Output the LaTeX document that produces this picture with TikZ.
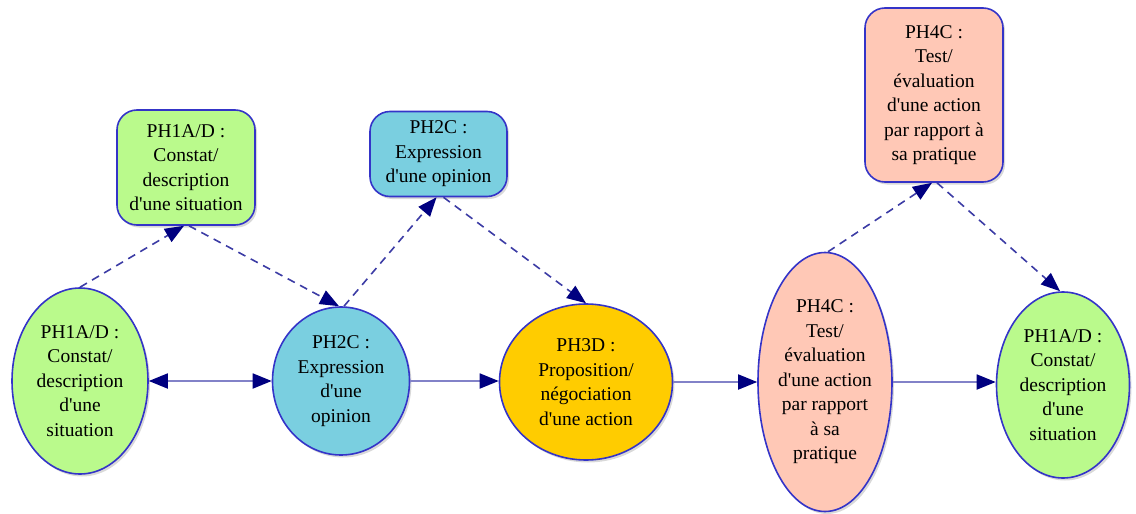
\documentclass[tikz,border=0pt]{standalone}
\usepackage{fontspec}
\newfontfamily\diagfont{Liberation Serif}
\usetikzlibrary{shapes.geometric,arrows.meta,shadows}

\definecolor{phgreen}{RGB}{186,250,140}
\definecolor{phblue}{RGB}{122,207,224}
\definecolor{phyellow}{RGB}{255,204,0}
\definecolor{phsalmon}{RGB}{255,200,182}
\definecolor{rim}{RGB}{52,52,200}
\definecolor{tipnavy}{RGB}{0,0,128}
\definecolor{flowline}{RGB}{130,130,200}
\definecolor{dashline}{RGB}{60,60,165}

\tikzset{
  phase/.style={draw=rim, line width=1.6pt,
    drop shadow={shadow xshift=2pt, shadow yshift=-2.5pt, opacity=0.3}},
  oval/.style={phase, ellipse, inner sep=0pt},
  card/.style={phase, rectangle, rounded corners=20pt, inner sep=0pt},
  txt/.style={align=center, font=\diagfont\fontsize{19.5}{24.5}\selectfont, inner sep=0pt},
  flow/.style={draw=flowline, line width=1.8pt, -{Triangle[length=19pt,width=15pt,color=tipnavy]}},
  aside/.style={draw=dashline, line width=1.6pt, dash pattern=on 8pt off 6pt,
    -{Triangle[length=19pt,width=15pt,color=tipnavy]}},
}

\begin{document}
\begin{tikzpicture}[x=1pt, y=-1pt]
\useasboundingbox (0,0) rectangle (1136,514);

% main sequence of phases
\node[oval, fill=phgreen,  minimum width=136pt, minimum height=186pt] (e1) at (80,381) {};
\node[oval, fill=phblue,   minimum width=137pt, minimum height=148pt] (e2) at (341,381) {};
\node[oval, fill=phyellow, minimum width=173pt, minimum height=156pt] (e3) at (586,382) {};
\node[oval, fill=phsalmon, minimum width=134pt, minimum height=259pt] (e4) at (825,382) {};
\node[oval, fill=phgreen,  minimum width=133pt, minimum height=186pt] (e5) at (1063,385) {};

\node[txt] at (e1) {PH1A/D :\\Constat/\\description\\d'une\\situation};
\node[txt] at (e2) {PH2C :\\Expression\\d'une\\opinion};
\node[txt] at (e3) {PH3D :\\Proposition/\\négociation\\d'une action};
\node[txt] at (e4) {PH4C :\\Test/\\évaluation\\d'une action\\par rapport\\à sa\\pratique};
\node[txt] at (e5) {PH1A/D :\\Constat/\\description\\d'une\\situation};

% side phases
\node[card, fill=phgreen,  minimum width=138pt, minimum height=115pt] (a) at (186,167.5) {};
\node[card, fill=phblue,   minimum width=137pt, minimum height=85pt]  (b) at (438.5,154) {};
\node[card, fill=phsalmon, minimum width=138pt, minimum height=174pt] (c) at (934,95) {};

\node[txt] at (a) {PH1A/D :\\Constat/\\description\\d'une situation};
\node[txt] at (b) {PH2C :\\Expression\\d'une opinion};
\node[txt] at (c) {PH4C :\\Test/\\évaluation\\d'une action\\par rapport à\\sa pratique};

% horizontal flow
\draw[flow, {Triangle[length=19pt,width=15pt,color=tipnavy]}-{Triangle[length=19pt,width=15pt,color=tipnavy]}] (e1.east) -- (e2.west |- e1.east);
\draw[flow] (e2.east) -- (e3.west |- e2.east);
\draw[flow] (e3.east) -- (e4.west |- e3.east);
\draw[flow] (e4.east) -- (e5.west |- e4.east);

% detours through the side phases
\draw[aside] (e1.north) -- ([xshift=-2pt]a.south);
\draw[aside] ([xshift=3pt]a.south) -- ([xshift=-2pt]e2.north);
\draw[aside] ([xshift=3pt]e2.north) -- ([xshift=-2pt]b.south);
\draw[aside] ([xshift=5pt]b.south) -- (e3.north);
\draw[aside] ([xshift=3pt]e4.north) -- ([xshift=-2pt]c.south);
\draw[aside] ([xshift=3pt]c.south) -- ([xshift=-3pt]e5.north);
\end{tikzpicture}
\end{document}
